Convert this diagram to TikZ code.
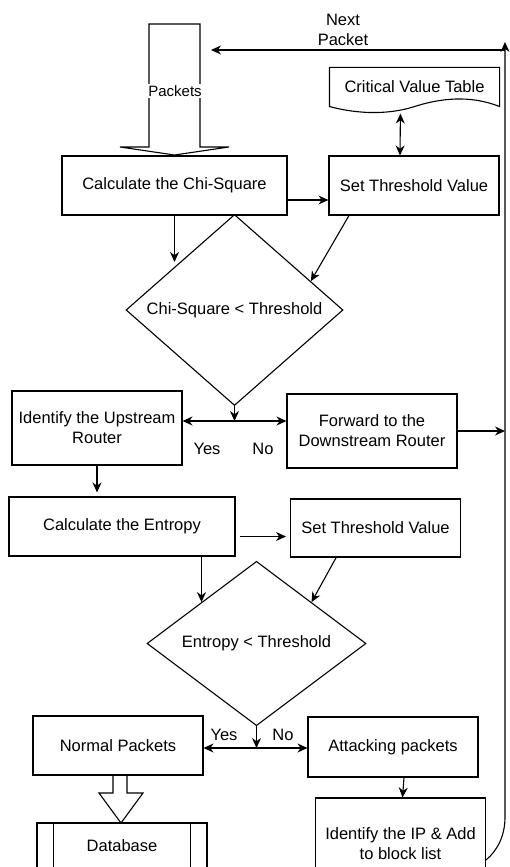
\documentclass[tikz,border=0pt]{standalone}
\usepackage{fontspec}
\setmainfont{Liberation Sans}
\usetikzlibrary{arrows.meta, shapes.geometric, calc}

\begin{document}
\begin{tikzpicture}[x=1pt, y=-1pt, line width=1.1pt,
    every node/.style={font=\fontsize{16.5}{20}\selectfont, align=center},
    box/.style={draw, rectangle, minimum width=170pt, minimum height=59pt, inner sep=2pt},
    cond/.style={draw, diamond, inner sep=0pt},
    docu/.style={rectangle, minimum width=169pt, minimum height=38pt},
    arr/.style={-{Stealth[length=10pt, width=9pt]}},
    darr/.style={{Stealth[length=10pt, width=9pt]}-{Stealth[length=10pt, width=9pt]}}]
    \useasboundingbox (0,0) rectangle (509,867);
    \clip (0,0) rectangle (509,867);

    % --- chi-square stage ---
    \draw (149,24) -- (200,24) -- (200,147) -- (229,147) -- (174.5,155)
        -- (120,147) -- (149,147) -- cycle;
    \node[fill=white, inner sep=1pt, font=\fontsize{15}{18}\selectfont] (pkt) at (175,91) {Packets};
    \node (nxt) at (343,30) {Next\\Packet};
    \node[box, minimum width=225pt] (chi) at (174.5,185.5) {Calculate the Chi-Square};
    \node[box] (thr1) at (414,185.5) {Set Threshold Value};
    \node[docu] (cvt) at (414.5,87) {Critical Value Table};
    % wavy bottom of the table
    \draw (cvt.north west) -- (cvt.north east) -- (cvt.south east)
        .. controls +(-30,-12) and +(25,-8) .. (cvt.south)
        .. controls +(-25,8) and +(30,8) .. (cvt.south west) -- cycle;
    \node[cond, minimum width=217pt, minimum height=162pt] (dia1) at (234.5,310) {Chi-Square < Threshold};
    \draw[arr] ([yshift=-14.5pt]chi.east) -- ([yshift=-14.5pt]chi.east -| thr1.west);
    \draw[darr, shorten <=7pt] ([xshift=-14pt]cvt.south) -- ([xshift=-14pt]thr1.north);
    \draw[arr] (chi.south) -- (chi.south |- dia1.north west);
    \draw[arr] ($(thr1.south west)!0.12!(thr1.south east)$) -- ($(dia1.north)!0.7!(dia1.east)$);

    % --- yes / no after chi-square ---
    \node[box, minimum height=74pt] (up) at (97,428) {Identify the Upstream\\Router};
    \node[box, minimum height=74pt] (fwd) at (372,431) {Forward to the\\Downstream Router};
    \node (yes1) at (207,449) {Yes};
    \node (no1) at (263,449) {No};
    \coordinate (j1) at (234.5,421);
    \draw[arr] (dia1.south) -- (j1);
    \draw[darr] (up.east |- j1) -- (fwd.west |- j1);

    % --- return line: next packet ---
    \coordinate (rtop) at (505,42);
    \coordinate (rbend) at (505,817);
    \coordinate (nxtend) at (211,50);
    \draw[arr] (fwd.east) -- (fwd.east -| rtop);
    \draw[arr] (rtop |- nxtend) -- (nxtend);

    % --- entropy stage ---
    \node[box, minimum width=226pt] (ent) at (122,526.5) {Calculate the Entropy};
    \node[box, minimum height=58pt] (thr2) at (375.5,528) {Set Threshold Value};
    \node[cond, minimum width=219pt, minimum height=161pt] (dia2) at (256.5,643.5) {Entropy < Threshold};
    \draw[arr, shorten >=4pt] (up.south) -- (up.south |- ent.north);
    \draw[arr, shorten <=4pt, shorten >=4pt] ([yshift=-10pt]ent.east) -- ([yshift=-10pt]ent.east -| thr2.west);
    \coordinate (e1) at ($(ent.south west)!0.85!(ent.south east)$);
    \draw[arr] (e1) -- (e1 |- dia2.north west);
    \draw[arr] ($(thr2.south west)!0.27!(thr2.south east)$) -- (dia2.north east);

    % --- yes / no after entropy ---
    \node[box] (norm) at (118,745.5) {Normal Packets};
    \node[box, minimum height=60pt] (att) at (393,747) {Attacking packets};
    \node[box, minimum height=92pt] (ip) at (400.5,844) {Identify the IP \& Add\\to block list};
    \node[box, minimum height=46pt] (db) at (122,846) {Database};
    \node (yes2) at (224,735) {Yes};
    \node (no2) at (283,735) {No};
    \coordinate (j2) at (256.5,748);
    \draw[arr] (dia2.south) -- (j2);
    \draw[darr] (norm.east |- j2) -- (att.west |- j2);
    \draw[arr] ([xshift=11pt]att.south) -- ([xshift=2pt]ip.north);
    \draw ([xshift=17pt]db.north west) -- ([xshift=17pt]db.south west);
    \draw ([xshift=-17pt]db.north east) -- ([xshift=-17pt]db.south east);
    % fat arrow into the database
    \draw (113,775) -- (113,793) -- (99,793) -- (121,823) -- (143,793) -- (127,793) -- (127,775);
    \draw[arr] ([yshift=-16pt]ip.east) .. controls (498,850) and (505,835) .. (rbend) -- (rtop);
\end{tikzpicture}
\end{document}
